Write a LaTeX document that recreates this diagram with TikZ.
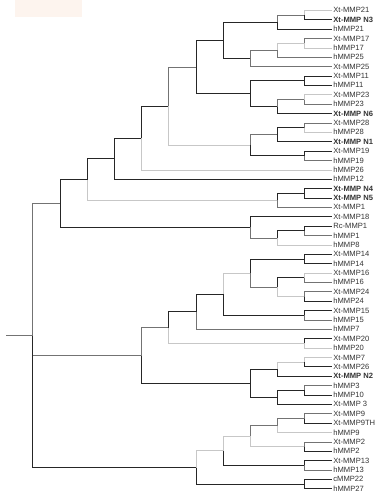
\documentclass[tikz,border=0pt]{standalone}
\usepackage{fontspec}
\setmainfont{Liberation Sans}
\definecolor{boxtint}{RGB}{253,244,238}
\tikzset{
  dkedge/.style={draw=black!85, line width=0.9pt},
  mdedge/.style={draw=black!55, line width=0.9pt},
  ltedge/.style={draw=black!22, line width=0.9pt},
  taxon/.style={anchor=west, inner sep=1.2pt, text height=5.2pt, text depth=0.3pt,
    text=black!80, font=\fontsize{7.6}{8}\selectfont},
  newtaxon/.style={taxon, font=\fontsize{7.6}{8}\selectfont\bfseries},
}
\begin{document}
\begin{tikzpicture}[x=1pt, y=-1pt]
    \useasboundingbox (0,0) rectangle (384,500);
    \fill[boxtint] (15,0) rectangle (82,17);
    %% Taxa
    \node[taxon] (xt21) at (332,10.50) {Xt-MMP21};
    \node[newtaxon] (xtN3) at (332,19.88) {Xt-MMP N3};
    \node[taxon] (h21) at (332,29.26) {hMMP21};
    \node[taxon] (xt17) at (332,38.64) {Xt-MMP17};
    \node[taxon] (h17) at (332,48.02) {hMMP17};
    \node[taxon] (h25) at (332,57.40) {hMMP25};
    \node[taxon] (xt25) at (332,66.78) {Xt-MMP25};
    \node[taxon] (xt11) at (332,76.16) {Xt-MMP11};
    \node[taxon] (h11) at (332,85.54) {hMMP11};
    \node[taxon] (xt23) at (332,94.92) {Xt-MMP23};
    \node[taxon] (h23) at (332,104.30) {hMMP23};
    \node[newtaxon] (xtN6) at (332,113.68) {Xt-MMP N6};
    \node[taxon] (xt28) at (332,123.06) {Xt-MMP28};
    \node[taxon] (h28) at (332,132.44) {hMMP28};
    \node[newtaxon] (xtN1) at (332,141.82) {Xt-MMP N1};
    \node[taxon] (xt19) at (332,151.20) {Xt-MMP19};
    \node[taxon] (h19) at (332,160.58) {hMMP19};
    \node[taxon] (h26) at (332,169.96) {hMMP26};
    \node[taxon] (h12) at (332,179.34) {hMMP12};
    \node[newtaxon] (xtN4) at (332,188.72) {Xt-MMP N4};
    \node[newtaxon] (xtN5) at (332,198.10) {Xt-MMP N5};
    \node[taxon] (xt1) at (332,207.48) {Xt-MMP1};
    \node[taxon] (xt18) at (332,216.86) {Xt-MMP18};
    \node[taxon] (rc1) at (332,226.24) {Rc-MMP1};
    \node[taxon] (h1) at (332,235.62) {hMMP1};
    \node[taxon] (h8) at (332,245.00) {hMMP8};
    \node[taxon] (xt14) at (332,254.38) {Xt-MMP14};
    \node[taxon] (h14) at (332,263.76) {hMMP14};
    \node[taxon] (xt16) at (332,273.14) {Xt-MMP16};
    \node[taxon] (h16) at (332,282.52) {hMMP16};
    \node[taxon] (xt24) at (332,291.90) {Xt-MMP24};
    \node[taxon] (h24) at (332,301.28) {hMMP24};
    \node[taxon] (xt15) at (332,310.66) {Xt-MMP15};
    \node[taxon] (h15) at (332,320.04) {hMMP15};
    \node[taxon] (h7) at (332,329.42) {hMMP7};
    \node[taxon] (xt20) at (332,338.80) {Xt-MMP20};
    \node[taxon] (h20) at (332,348.18) {hMMP20};
    \node[taxon] (xt7) at (332,357.56) {Xt-MMP7};
    \node[taxon] (xt26) at (332,366.94) {Xt-MMP26};
    \node[newtaxon] (xtN2) at (332,376.32) {Xt-MMP N2};
    \node[taxon] (h3) at (332,385.70) {hMMP3};
    \node[taxon] (h10) at (332,395.08) {hMMP10};
    \node[taxon] (xt3) at (332,404.46) {Xt-MMP 3};
    \node[taxon] (xt9) at (332,413.84) {Xt-MMP9};
    \node[taxon] (xt9th) at (332,423.22) {Xt-MMP9TH};
    \node[taxon] (h9) at (332,432.60) {hMMP9};
    \node[taxon] (xt2) at (332,441.98) {Xt-MMP2};
    \node[taxon] (h2) at (332,451.36) {hMMP2};
    \node[taxon] (xt13) at (332,460.74) {Xt-MMP13};
    \node[taxon] (h13) at (332,470.12) {hMMP13};
    \node[taxon] (c22) at (332,479.50) {cMMP22};
    \node[taxon] (h27) at (332,488.88) {hMMP27};
    %% Branch points
    \coordinate (stub) at (6,335.5);
    \coordinate (root) at (32.8,335.5);
    \coordinate (a17) at (60.0,203.5);
    \coordinate (a14) at (87.2,179.55);
    \coordinate (a12) at (114.4,158.7);
    \coordinate (a11) at (141.6,138.1);
    \coordinate (a10) at (168.8,106.2);
    \coordinate (a7) at (196.0,67.05);
    \coordinate (a4) at (223.2,40.4);
    \coordinate (a16) at (250.4,227.4);
    \coordinate (a9) at (250.4,145.3);
    \coordinate (a6) at (250.4,93.7);
    \coordinate (a3) at (250.4,58.57);
    \coordinate (a13) at (277.6,200.4);
    \coordinate (a1) at (277.6,22.2);
    \coordinate (a2) at (277.6,50.37);
    \coordinate (a5) at (277.6,106.6);
    \coordinate (a8) at (277.6,134.8);
    \coordinate (a15) at (277.6,237.97);
    \coordinate (b9) at (141.6,355.5);
    \coordinate (b5) at (168.8,327.6);
    \coordinate (b4) at (196.0,311.8);
    \coordinate (b3) at (223.2,294.2);
    \coordinate (b2) at (250.4,273.1);
    \coordinate (b8) at (250.4,383.35);
    \coordinate (b1) at (277.6,287.2);
    \coordinate (b6) at (277.6,369.3);
    \coordinate (b7) at (277.6,397.4);
    \coordinate (d4) at (196.0,467.5);
    \coordinate (d3) at (223.2,450.8);
    \coordinate (d2) at (250.4,436.1);
    \coordinate (d1) at (277.6,425.6);
    \coordinate (k21) at (304.8,15.19);
    \coordinate (k17) at (304.8,43.33);
    \coordinate (k11) at (304.8,80.85);
    \coordinate (k23) at (304.8,99.61);
    \coordinate (k28) at (304.8,127.75);
    \coordinate (k19) at (304.8,155.89);
    \coordinate (kN4) at (304.8,193.41);
    \coordinate (k1) at (304.8,230.93);
    \coordinate (k14) at (304.8,259.07);
    \coordinate (k16) at (304.8,277.83);
    \coordinate (k24) at (304.8,296.59);
    \coordinate (k15) at (304.8,315.35);
    \coordinate (k20) at (304.8,343.49);
    \coordinate (k7) at (304.8,362.25);
    \coordinate (k3) at (304.8,390.39);
    \coordinate (k9) at (304.8,418.53);
    \coordinate (k2) at (304.8,446.67);
    \coordinate (k13) at (304.8,465.43);
    \coordinate (k22) at (304.8,484.19);
    %% Branches
    \draw[mdedge] (stub) -- (root);
    \draw[mdedge] (root) |- (a17);
    \draw[mdedge] (root) |- (b9);
    \draw[dkedge] (root) |- (d4);
    % upper clade
    \draw[dkedge] (a17) |- (a14);
    \draw[dkedge] (a17) |- (a16);
    \draw[dkedge] (a14) |- (a12);
    \draw[ltedge] (a14) |- (a13);
    \draw[dkedge] (a12) |- (a11);
    \draw[dkedge] (a12) |- (h12.west);
    \draw[dkedge] (a11) |- (a10);
    \draw[ltedge] (a11) |- (h26.west);
    \draw[mdedge] (a10) |- (a7);
    \draw[ltedge] (a10) |- (a9);
    \draw[dkedge] (a7) |- (a4);
    \draw[dkedge] (a7) |- (a6);
    \draw[dkedge] (a4) |- (a1);
    \draw[dkedge] (a4) |- (a3);
    \draw[mdedge] (a1) |- (k21);
    \draw[dkedge] (a1) |- (h21.west);
    \draw[ltedge] (k21) |- (xt21.west);
    \draw[dkedge] (k21) |- (xtN3.west);
    \draw[mdedge] (a3) |- (a2);
    \draw[mdedge] (a3) |- (xt25.west);
    \draw[ltedge] (a2) |- (k17);
    \draw[mdedge] (a2) |- (h25.west);
    \draw[mdedge] (k17) |- (xt17.west);
    \draw[ltedge] (k17) |- (h17.west);
    \draw[dkedge] (a6) |- (k11);
    \draw[dkedge] (a6) |- (a5);
    \draw[dkedge] (k11) |- (xt11.west);
    \draw[dkedge] (k11) |- (h11.west);
    \draw[mdedge] (a5) |- (k23);
    \draw[dkedge] (a5) |- (xtN6.west);
    \draw[ltedge] (k23) |- (xt23.west);
    \draw[mdedge] (k23) |- (h23.west);
    \draw[mdedge] (a9) |- (a8);
    \draw[dkedge] (a9) |- (k19);
    \draw[dkedge] (a8) |- (k28);
    \draw[dkedge] (a8) |- (xtN1.west);
    \draw[mdedge] (k28) |- (xt28.west);
    \draw[ltedge] (k28) |- (h28.west);
    \draw[dkedge] (k19) |- (xt19.west);
    \draw[mdedge] (k19) |- (h19.west);
    \draw[dkedge] (a13) |- (kN4);
    \draw[mdedge] (a13) |- (xt1.west);
    \draw[dkedge] (kN4) |- (xtN4.west);
    \draw[dkedge] (kN4) |- (xtN5.west);
    \draw[dkedge] (a16) |- (xt18.west);
    \draw[mdedge] (a16) |- (a15);
    \draw[dkedge] (a15) |- (k1);
    \draw[ltedge] (a15) |- (h8.west);
    \draw[dkedge] (k1) |- (rc1.west);
    \draw[mdedge] (k1) |- (h1.west);
    % middle clade
    \draw[mdedge] (b9) |- (b5);
    \draw[dkedge] (b9) |- (b8);
    \draw[dkedge] (b5) |- (b4);
    \draw[ltedge] (b5) |- (k20);
    \draw[dkedge] (b4) |- (b3);
    \draw[mdedge] (b4) |- (h7.west);
    \draw[ltedge] (b3) |- (b2);
    \draw[dkedge] (b3) |- (k15);
    \draw[dkedge] (b2) |- (k14);
    \draw[mdedge] (b2) |- (b1);
    \draw[dkedge] (b1) |- (k16);
    \draw[ltedge] (b1) |- (k24);
    \draw[dkedge] (k14) |- (xt14.west);
    \draw[dkedge] (k14) |- (h14.west);
    \draw[ltedge] (k16) |- (xt16.west);
    \draw[mdedge] (k16) |- (h16.west);
    \draw[mdedge] (k24) |- (xt24.west);
    \draw[dkedge] (k24) |- (h24.west);
    \draw[dkedge] (k15) |- (xt15.west);
    \draw[mdedge] (k15) |- (h15.west);
    \draw[dkedge] (k20) |- (xt20.west);
    \draw[ltedge] (k20) |- (h20.west);
    \draw[dkedge] (b8) |- (b6);
    \draw[dkedge] (b8) |- (b7);
    \draw[ltedge] (b6) |- (k7);
    \draw[dkedge] (b6) |- (xtN2.west);
    \draw[ltedge] (k7) |- (xt7.west);
    \draw[dkedge] (k7) |- (xt26.west);
    \draw[dkedge] (b7) |- (k3);
    \draw[dkedge] (b7) |- (xt3.west);
    \draw[mdedge] (k3) |- (h3.west);
    \draw[dkedge] (k3) |- (h10.west);
    % lower clade
    \draw[ltedge] (d4) |- (d3);
    \draw[dkedge] (d4) |- (k22);
    \draw[ltedge] (d3) |- (d2);
    \draw[dkedge] (d3) |- (k13);
    \draw[mdedge] (d2) |- (d1);
    \draw[ltedge] (d2) |- (k2);
    \draw[mdedge] (d1) |- (k9);
    \draw[ltedge] (d1) |- (h9.west);
    \draw[mdedge] (k9) |- (xt9.west);
    \draw[dkedge] (k9) |- (xt9th.west);
    \draw[mdedge] (k2) |- (xt2.west);
    \draw[dkedge] (k2) |- (h2.west);
    \draw[dkedge] (k13) |- (xt13.west);
    \draw[mdedge] (k13) |- (h13.west);
    \draw[dkedge] (k22) |- (c22.west);
    \draw[dkedge] (k22) |- (h27.west);
\end{tikzpicture}
\end{document}
